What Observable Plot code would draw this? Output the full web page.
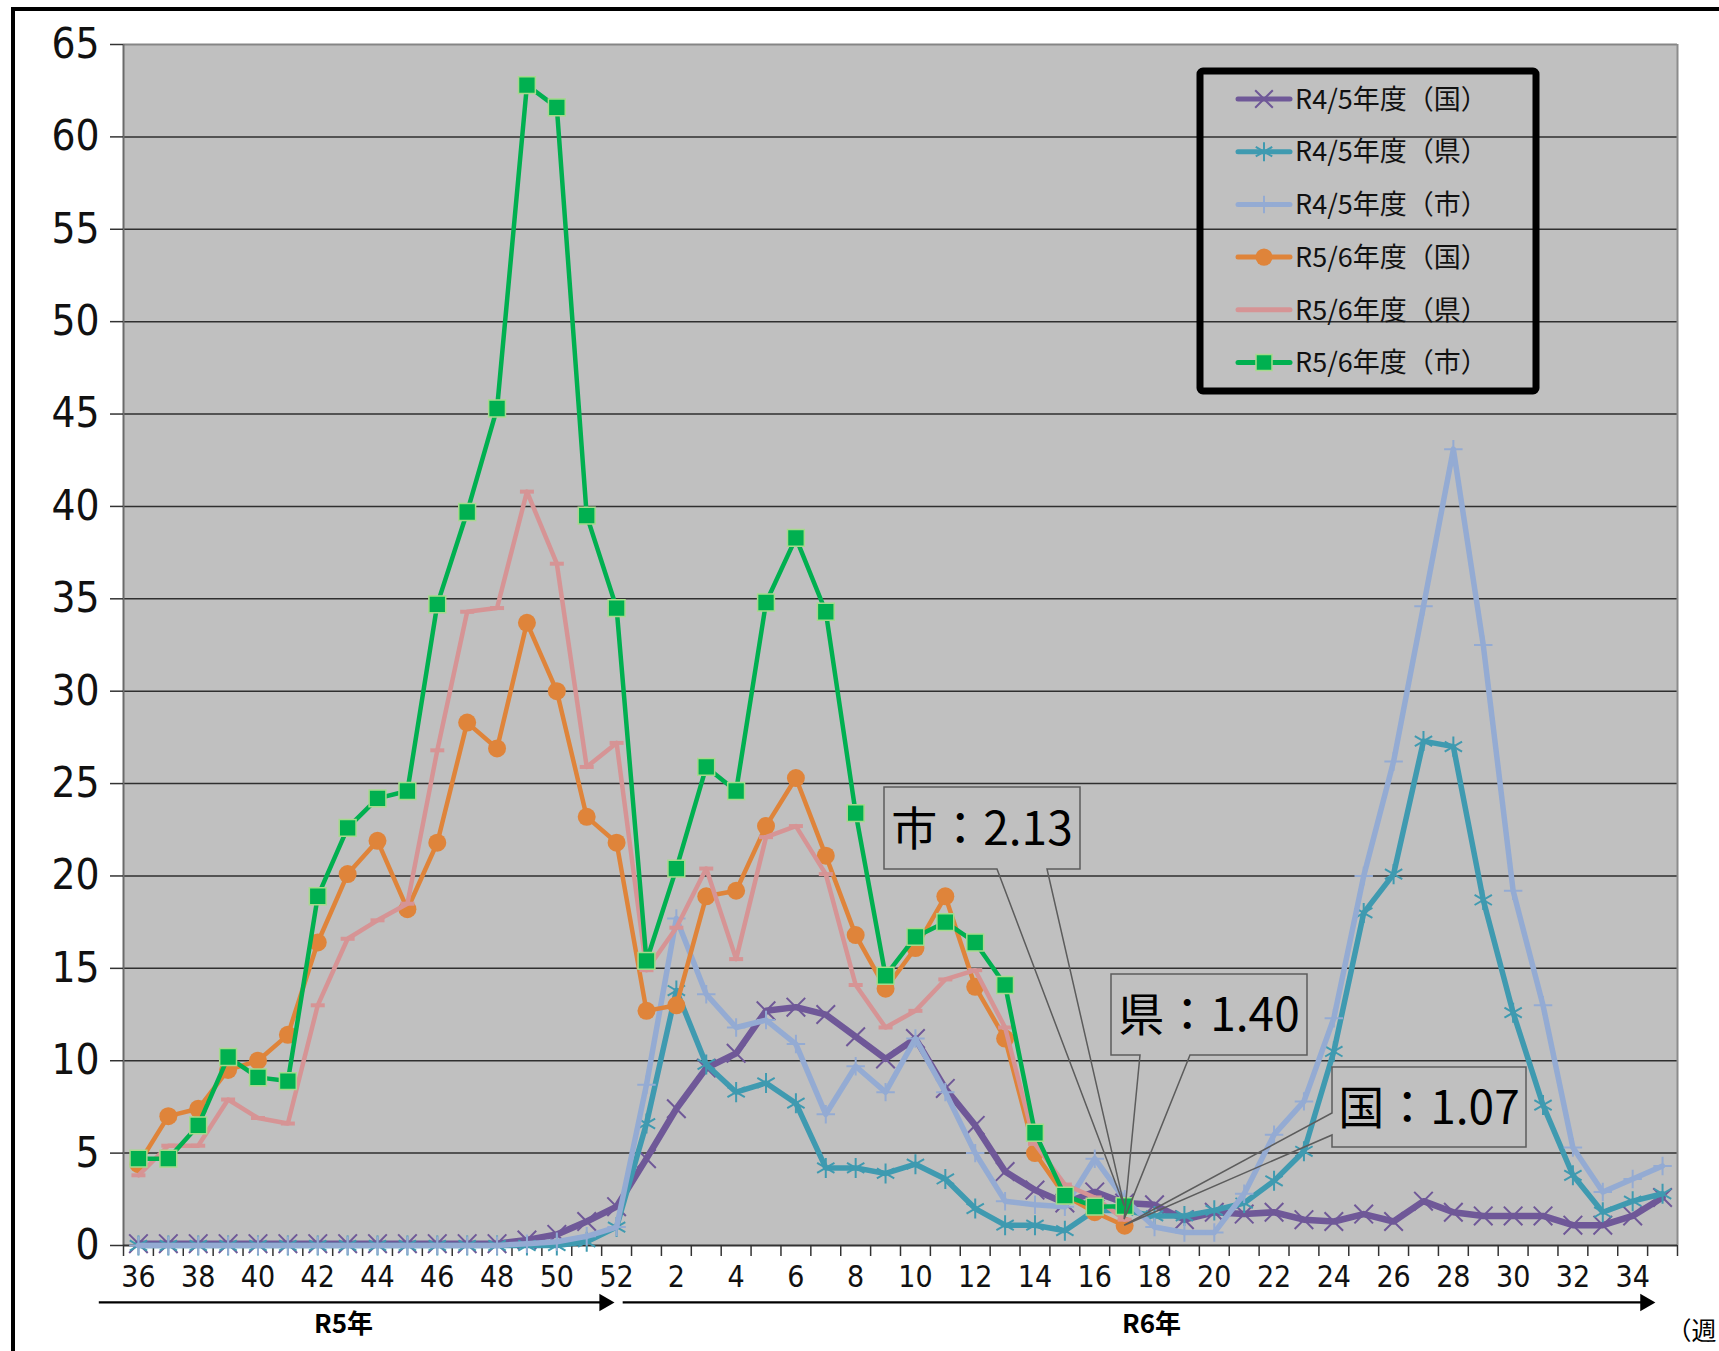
<!DOCTYPE html>
<html>
<head>
<meta charset="utf-8">
<script src="https://cdn.jsdelivr.net/npm/d3@7"></script>
<script src="https://cdn.jsdelivr.net/npm/@observablehq/plot@0.6"></script>
<style>
html,body{margin:0;padding:0;background:#fff;overflow:hidden}
#chart svg{display:block}
</style>
</head>
<body>
<div id="chart"></div>
<script>
// ---------------- DATA ----------------
const weekLabels = [36,37,38,39,40,41,42,43,44,45,46,47,48,49,50,51,52,
  1,2,3,4,5,6,7,8,9,10,11,12,13,14,15,16,17,18,19,20,21,22,23,24,25,26,27,28,29,30,31,32,33,34,35];

const seriesNames = ["R4/5年度（国）","R4/5年度（県）","R4/5年度（市）","R5/6年度（国）","R5/6年度（県）","R5/6年度（市）"];

const r45Kuni = [0.1,0.1,0.1,0.1,0.1,0.1,0.1,0.1,0.1,0.1,0.1,0.1,0.1,0.3,0.6,1.3,2.1,
  4.7,7.4,9.6,10.4,12.7,12.9,12.5,11.3,10.1,11.2,8.5,6.5,4.0,3.0,2.3,2.9,2.3,2.2,1.4,1.8,1.7,1.8,1.4,1.3,1.7,1.3,2.4,1.8,1.6,1.6,1.6,1.1,1.1,1.6,2.6];
const r45Ken = [0,0,0,0,0,0,0,0,0,0,0,0,0,0,0,0.2,1.0,
  6.6,13.8,9.8,8.3,8.8,7.7,4.2,4.2,3.9,4.4,3.6,2.0,1.1,1.1,0.8,1.9,1.9,1.6,1.6,1.9,2.3,3.5,5.1,10.5,18.0,20.1,27.3,27.0,18.7,12.6,7.6,3.8,1.8,2.4,2.8];
const r45Shi = [0,0,0,0,0,0,0,0,0,0,0,0,0,0.1,0.2,0.5,1.0,
  8.7,17.7,13.6,11.8,12.2,10.9,7.1,9.7,8.3,11.2,8.3,5.0,2.4,2.2,2.1,4.7,2.5,1.0,0.7,0.7,2.8,6.0,7.8,12.3,20.0,26.2,34.6,43.1,32.5,19.2,13.0,5.3,2.9,3.6,4.3];
const r56Kuni = [4.4,7.0,7.4,9.5,10.0,11.4,16.4,20.1,21.9,18.2,21.8,28.3,26.9,33.7,30.0,23.2,21.8,
  12.7,13.0,18.9,19.2,22.7,25.3,21.1,16.8,13.9,16.1,18.9,14.0,11.2,5.0,2.7,1.8,1.07];
const r56Ken = [3.8,5.4,5.4,7.9,6.9,6.6,13.0,16.6,17.6,18.5,26.8,34.3,34.5,40.8,36.9,25.9,27.2,
  14.9,17.2,20.4,15.5,22.1,22.7,20.1,14.1,11.8,12.7,14.4,14.9,11.8,5.5,3.3,2.6,1.40];
const r56Shi = [4.7,4.7,6.5,10.2,9.1,8.9,18.9,22.6,24.2,24.6,34.7,39.7,45.3,62.8,61.6,39.5,34.5,
  15.4,20.4,25.9,24.6,34.8,38.3,34.3,23.4,14.6,16.7,17.5,16.4,14.1,6.1,2.7,2.1,2.13];

const yTicks = [0,5,10,15,20,25,30,35,40,45,50,55,60,65];
const periodLabels = ["R5年","R6年"];
const unitLabel = "（週";
const calloutText = ["市：2.13","県：1.40","国：1.07"];

// ---------------- LAYOUT / STYLE ----------------
const W = 1719, H = 1351;
const M = {top: 44, right: 42, bottom: 106, left: 123};
const n = weekLabels.length;
const band = (W - M.left - M.right) / n;
const yUnit = (H - M.top - M.bottom) / 65;
const px = p => p / band;
const py = p => p / yUnit;
const NUM = "'Liberation Sans Narrow','DejaVu Sans Condensed','Liberation Sans',sans-serif";
const JP = "'Noto Sans CJK JP','Noto Sans',sans-serif";

const dash = {draw(ctx, size) { const r = Math.sqrt(size / Math.PI); ctx.moveTo(-r, 0); ctx.lineTo(r, 0); }};

const series = [
  {values: r45Kuni, color: "#6f5898", width: 6.5, symbol: "times",    r: 8.5, fill: "none", mstroke: "#6f5898", msw: 2},
  {values: r45Ken,  color: "#3f9ab0", width: 5.5, symbol: "asterisk", r: 9.5, fill: "none", mstroke: "#3f9ab0", msw: 2},
  {values: r45Shi,  color: "#94abd3", width: 5.5, symbol: "plus",     r: 6,   fill: "none", mstroke: "#94abd3", msw: 2},
  {values: r56Kuni, color: "#df843a", width: 4.5, symbol: "circle",   r: 9,   fill: "#df843a", mstroke: "none", msw: 0},
  {values: r56Ken,  color: "#d69495", width: 4.5, symbol: dash,       r: 7,   fill: "none", mstroke: "#d69495", msw: 4},
  {values: r56Shi,  color: "#00b050", width: 4.5, symbol: "square",   r: 9.5, fill: "#00b050", mstroke: "#a6da8c", msw: 1.5}
];
series.forEach((s, k) => s.name = seriesNames[k]);

const rows = vals => vals.map((v, i) => ({i, v})).filter(d => d.v != null);

const arrowY = -3.08;
const arrowSpans = [[-1.31, 15.93], [16.22, 50.76]];
const periodLabelX = [6.86, 33.9];
const headR = 6.5, headTip = 10.1;

const seriesMarks = series.flatMap(s => [
  Plot.line(rows(s.values), {x: "i", y: "v", stroke: s.color, strokeWidth: s.width, strokeLinejoin: "round", strokeLinecap: "round"}),
  Plot.dot(rows(s.values), {x: "i", y: "v", symbol: s.symbol, r: s.r, fill: s.fill, stroke: s.mstroke, strokeWidth: s.msw})
]);

const chart = Plot.plot({
  width: W, height: H,
  marginTop: M.top, marginRight: M.right, marginBottom: M.bottom, marginLeft: M.left,
  x: {domain: [-0.5, n - 0.5], axis: null},
  y: {domain: [0, 65], axis: null},
  style: {background: "#fff", overflow: "visible"},
  marks: [
    Plot.frame({fill: "#c0c0c0", stroke: null}),
    Plot.ruleY(yTicks.filter(t => t > 0 && t < 65), {stroke: "#2f2f2f", strokeWidth: 1.5}),
    Plot.ruleY([65], {stroke: "#858585", strokeWidth: 2}),
    Plot.ruleX([n - 0.5], {stroke: "#8c8c8c", strokeWidth: 2}),
    Plot.ruleX([-0.5], {stroke: "#6a6a6a", strokeWidth: 2}),
    Plot.ruleY([0], {stroke: "#333", strokeWidth: 2}),
    // y ticks + labels
    Plot.ruleY(yTicks, {x1: -0.5 - px(13), x2: -0.5, stroke: "#333", strokeWidth: 1.5}),
    Plot.text(yTicks, {x: -0.5, y: d => d, dx: -24, textAnchor: "end", lineAnchor: "middle", text: d => String(d), fontSize: 42, fontFamily: NUM, fill: "#111"}),
    // x ticks + labels
    Plot.ruleX(d3.range(-0.5, n, 1), {y1: 0, y2: -py(11), stroke: "#333", strokeWidth: 1.5}),
    Plot.text(d3.range(0, n, 2), {x: d => d, y: 0, dy: 32, text: i => String(weekLabels[i]), lineAnchor: "middle", fontSize: 30, fontFamily: NUM, fill: "#111"}),
    // period arrows
    Plot.ruleY(arrowSpans, {y: () => arrowY, x1: d => d[0], x2: d => d[1] - px(headTip), stroke: "#000", strokeWidth: 2.2}),
    Plot.dot(arrowSpans, {x: d => d[1] - px(headTip), y: () => arrowY, symbol: "triangle", rotate: 90, r: headR, fill: "#000", stroke: "none"}),
    Plot.text(periodLabels, {x: (d, k) => periodLabelX[k], y: -4.3, text: d => d, fontWeight: "bold", fontSize: 26, fontFamily: JP, fill: "#000", lineAnchor: "middle"}),
    Plot.text([unitLabel], {x: n - 0.87, y: -4.7, text: d => d, textAnchor: "start", fontSize: 25, fontFamily: JP, fill: "#000", lineAnchor: "middle"}),
    ...seriesMarks
  ]
});
document.getElementById("chart").appendChild(chart);

// ---------------- LEGEND & CALLOUTS ----------------
const svg = d3.select(chart);
const xs = chart.scale("x"), ys = chart.scale("y");

const symbolOf = s => typeof s.symbol === "string"
  ? ({times: d3.symbolTimes, asterisk: d3.symbolAsterisk, plus: d3.symbolPlus, circle: d3.symbolCircle, square: d3.symbolSquare})[s.symbol]
  : s.symbol;

const lg = svg.append("g").attr("text-anchor", "start");
lg.append("rect").attr("x", 1200).attr("y", 71).attr("width", 336).attr("height", 320).attr("rx", 3)
  .attr("fill", "none").attr("stroke", "#000").attr("stroke-width", 7);
series.forEach((s, k) => {
  const cy = 99 + k * 52.7;
  lg.append("line").attr("x1", 1238).attr("x2", 1290).attr("y1", cy).attr("y2", cy)
    .attr("stroke", s.color).attr("stroke-width", 5).attr("stroke-linecap", "round");
  if (k !== 4) {
    const rr = s.r * 0.95;
    lg.append("path").attr("d", d3.symbol(symbolOf(s), Math.PI * rr * rr)())
      .attr("transform", `translate(1264,${cy})`)
      .attr("fill", s.fill).attr("stroke", s.mstroke).attr("stroke-width", s.msw);
  }
  lg.append("text").attr("x", 1295).attr("y", cy).attr("dy", "0.36em").attr("text-anchor", "start")
    .attr("font-family", JP).attr("font-size", 27).attr("fill", "#111").text(s.name);
});

const last = 33;
const callouts = [
  {text: calloutText[0], tip: [last, r56Shi[last]], box: [884, 787, 1080, 869], side: "bottom", base: [997, 1047]},
  {text: calloutText[1], tip: [last, r56Ken[last]], box: [1111, 974, 1307, 1055], side: "bottom", base: [1140, 1190]},
  {text: calloutText[2], tip: [last, r56Kuni[last]], box: [1332, 1067, 1526, 1147], side: "left", base: [1113, 1135]}
];
const cg = svg.append("g");
callouts.forEach(c => {
  const tx = xs.apply(c.tip[0]), ty = ys.apply(c.tip[1]);
  const [x0, y0, x1, y1] = c.box;
  let d;
  if (c.side === "bottom") {
    d = `M${x0},${y0}H${x1}V${y1}H${c.base[1]}L${tx},${ty}L${c.base[0]},${y1}H${x0}Z`;
  } else {
    d = `M${x0},${y0}H${x1}V${y1}H${x0}V${c.base[1]}L${tx},${ty}L${x0},${c.base[0]}Z`;
  }
  cg.append("path").attr("d", d).attr("fill", "none").attr("stroke", "#5c5c5c").attr("stroke-width", 1.5);
  cg.append("text").attr("x", (x0 + x1) / 2).attr("y", (y0 + y1) / 2).attr("dy", "0.36em")
    .attr("text-anchor", "middle").attr("font-family", JP).attr("font-size", 46).attr("fill", "#000").text(c.text);
});

// outer frame (cropped at right & bottom)
svg.append("path").attr("d", `M13,${H}V9H${W}`).attr("fill", "none").attr("stroke", "#000").attr("stroke-width", 4);
</script>
</body>
</html>
